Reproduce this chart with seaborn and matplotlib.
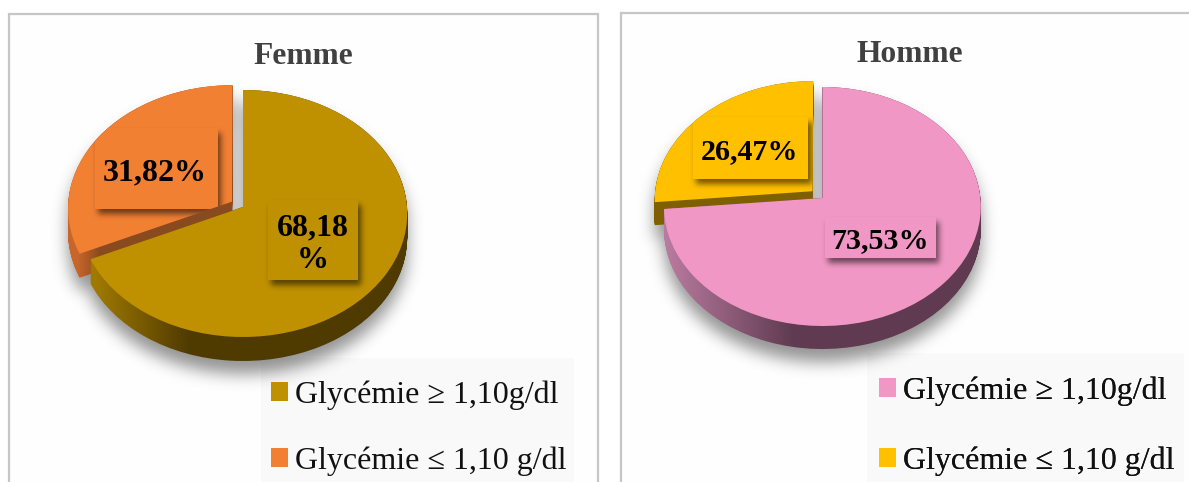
import numpy as np
import matplotlib
matplotlib.use("Agg")
import matplotlib.pyplot as plt
import seaborn as sns
from matplotlib.patches import Rectangle, PathPatch
from matplotlib.path import Path
from matplotlib.transforms import Transform

# Data
legend_labels = ["Glycémie ≥ 1,10g/dl", "Glycémie ≤ 1,10 g/dl"]
femme_values = [68.18, 31.82]
homme_values = [73.53, 26.47]

W, H = 1189, 482
sns.set_theme(style="white")
plt.rcParams["font.family"] = ["Liberation Serif", "DejaVu Serif"]

femme_palette = sns.color_palette(["#BF9000", "#F28033"])
homme_palette = sns.color_palette(["#F197C5", "#FFC000"])


class TiltedDisc(Transform):
    """Projects the unit disc of a pie to a receding ellipse, in pixels."""
    input_dims = output_dims = 2

    def __init__(self, x0, y0, rx, near, far):
        super().__init__()
        self.x0, self.y0, self.rx = x0, y0, rx
        self.p = (near - far) / (near + far)
        self.a = far * (1 + self.p)

    def transform_non_affine(self, values):
        values = np.asarray(values)
        d = 1 + self.p * values[:, 1]
        return np.column_stack([self.x0 + self.rx * values[:, 0] / d,
                                self.y0 - self.a * values[:, 1] / d])


def gaussian_blur(arr, sigma):
    r = int(3 * sigma)
    k = np.exp(-0.5 * (np.arange(-r, r + 1) / sigma) ** 2)
    k /= k.sum()
    arr = np.apply_along_axis(lambda m: np.convolve(m, k, mode="same"), 0, arr)
    return np.apply_along_axis(lambda m: np.convolve(m, k, mode="same"), 1, arr)


def soft_shadow(ax, paths, dy, sigma, strength, zorder, dx=0):
    xs, ys = np.meshgrid(np.arange(W) + 0.5, np.arange(H) + 0.5)
    pts = np.column_stack([xs.ravel() - dx, ys.ravel() - dy])
    mask = np.zeros(xs.size, bool)
    for p in paths:
        mask |= p.contains_points(pts)
    blurred = gaussian_blur(mask.reshape(xs.shape).astype(float), sigma)
    rgba = np.zeros((H, W, 4))
    rgba[..., 3] = blurred * strength
    return ax.imshow(rgba, extent=(0, W, H, 0), aspect="auto", zorder=zorder,
                     interpolation="nearest")


def extrusion_path(path, depth):
    copies = [Path(path.vertices + [0, d], path.codes) for d in range(depth + 1)]
    return Path.make_compound_path(*copies)


def draw_side(ax, path, depth, light, dark, x_from, x_to, zorder):
    # Side wall of the disc, shaded from left to right
    xs = np.arange(W) + 0.5
    t = np.clip((xs - x_from) / (x_to - x_from), 0, 1)[None, :, None]
    c0 = np.array(matplotlib.colors.to_rgb(light))
    c1 = np.array(matplotlib.colors.to_rgb(dark))
    img = c0 * (1 - t) + c1 * t
    im = ax.imshow(img, extent=(0, W, H, 0), aspect="auto", zorder=zorder,
                   interpolation="nearest")
    im.set_clip_path(PathPatch(extrusion_path(path, depth), transform=ax.transData))


def value_box(ax, x0, y0, x1, y1, color, text, tx, ty, holder, size):
    # Label plate with a drop shadow; both stay inside the slice they sit on
    rect = Path([(x0, y0), (x1, y0), (x1, y1), (x0, y1), (x0, y0)])
    shade = soft_shadow(ax, [rect], 4.5, 3, 0.55, 6, dx=3.5)
    plate = Rectangle((x0, y0), x1 - x0, y1 - y0, fc=color, ec="none", zorder=7)
    ax.add_patch(plate)
    shade.set_clip_path(PathPatch(holder, transform=ax.transData))
    plate.set_clip_path(PathPatch(holder, transform=ax.transData))
    ax.text(tx, ty, text, ha="center", va="center", fontsize=size,
            fontweight="bold", color="black", zorder=8, linespacing=1.15)


def fmt(v):
    return f"{v:.2f}%".replace(".", ",")


def draw_panel(ax, values, colors, geom, title, title_xy, boxes, legend_xy,
               legend_bg, label_gap, label_size):
    tilt = TiltedDisc(*geom["disc"])
    depth = geom["depth"]
    wedges, _ = ax.pie(values, colors=colors, startangle=90, counterclock=False,
                       explode=[0, geom["explode"]], radius=1)
    ax.set_aspect("auto")
    paths = []
    for w in wedges:
        w.set_transform(tilt + ax.transData)
        w.set_clip_on(False)
        w.set_linewidth(0)
        paths.append(tilt.transform_path(w.get_path()))

    ax.add_patch(Rectangle(legend_bg[:2], legend_bg[2], legend_bg[3],
                           fc="#F9F9F9", ec="none", zorder=0.5))
    soft_shadow(ax, [extrusion_path(p, depth) for p in paths], 13, 8, 0.42, 1)

    draw_side(ax, paths[1], depth, *geom["slice_side"], zorder=2)
    wedges[1].set_zorder(3)
    draw_side(ax, paths[0], depth, *geom["main_side"], zorder=4)
    wedges[0].set_zorder(5)

    for slice_idx, box, value, txy, split in boxes:
        s = fmt(value)
        if split:
            s = s[:-1] + "\n%"
        value_box(ax, *box, colors[slice_idx], s, *txy, paths[slice_idx], label_size)

    ax.text(*title_xy, title, ha="center", va="center", fontsize=22.7,
            fontweight="bold", color="#404040", zorder=8)

    leg = ax.legend(wedges, legend_labels, loc="upper left", bbox_to_anchor=legend_xy,
                    bbox_transform=ax.transData, frameon=False, fontsize=23,
                    handlelength=0.54, handleheight=0.54, handletextpad=0.2,
                    labelspacing=label_gap, borderpad=0, borderaxespad=0,
                    labelcolor="#111111")
    leg.set_zorder(9)
    ax.add_artist(leg)


fig = plt.figure(figsize=(W / 100, H / 100), dpi=100, facecolor="white")
ax = fig.add_axes([0, 0, 1, 1])

# Panel frames
ax.add_patch(Rectangle((8.5, 14), 589.5, 480, fc="#FEFEFE", ec="#C6C6C6", lw=1.6, zorder=0))
ax.add_patch(Rectangle((621, 13), 580, 480, fc="#FEFEFE", ec="#C6C6C6", lw=1.6, zorder=0))

draw_panel(
    ax, femme_values, femme_palette,
    dict(disc=(243, 207, 164, 130, 117), depth=24, explode=0.08,
         main_side=("#A07A00", "#4F3A00", 95, 190),
         slice_side=("#C8652B", "#8A4A20", 78, 100)),
    "Femme", (303, 56),
    [(0, (268, 200, 357.5, 280), femme_values[0], (313, 244), True),
     (1, (95, 128, 217.5, 209), femme_values[1], (155, 173), False)],
    (271, 380), (261, 358, 313, 130), 1.15, 23,
)
draw_panel(
    ax, homme_values, homme_palette,
    dict(disc=(822.4, 198, 158, 128, 111), depth=23, explode=0.085,
         main_side=("#B87A9E", "#5F3A50", 668, 795),
         slice_side=("#7F6000", "#7F6000", 650, 800)),
    "Homme", (909.5, 55),
    [(0, (825, 217, 935.5, 258), homme_values[0], (880, 241), False),
     (1, (693, 117, 808, 179), homme_values[1], (749.5, 152), False)],
    (879, 376), (867, 353, 317, 130), 1.27, 21.6,
)

ax.set_xlim(0, W)
ax.set_ylim(H, 0)
ax.set_position([0, 0, 1, 1])
ax.axis("off")
fig.savefig("out.png", dpi=100)
